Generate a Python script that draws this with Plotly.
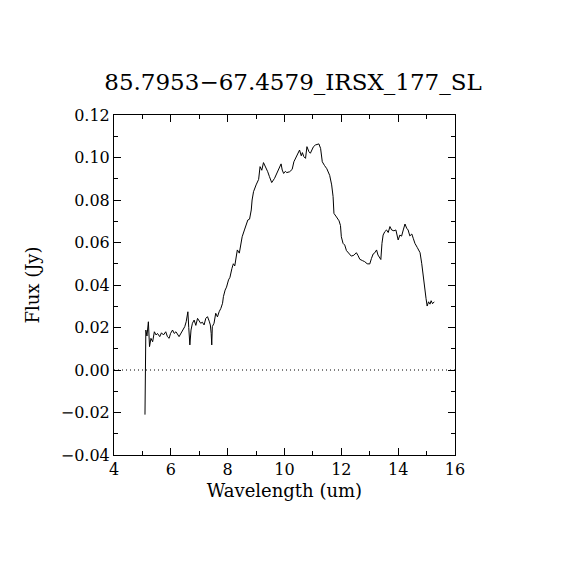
import plotly.graph_objects as go

TITLE = "85.7953\u221267.4579_IRSX_177_SL"

# wavelength (um) and flux (Jy)
wave = [5.09, 5.10, 5.12, 5.16, 5.21, 5.25, 5.30, 5.36, 5.42, 5.48, 5.53, 5.61, 5.67, 5.74,
        5.82, 5.88, 5.94, 5.99, 6.06, 6.12, 6.18, 6.29, 6.35, 6.41, 6.49, 6.54, 6.60, 6.63,
        6.67, 6.71, 6.76, 6.82, 6.88, 6.94, 7.00, 7.05, 7.11, 7.17, 7.23, 7.29, 7.35, 7.39,
        7.42, 7.44, 7.46, 7.52, 7.58, 7.64, 7.70, 7.76, 7.82, 7.85, 7.91, 7.96, 8.03, 8.08,
        8.15, 8.20, 8.25, 8.30, 8.34, 8.41, 8.47, 8.51, 8.59, 8.65, 8.71, 8.77, 8.83, 8.86,
        8.91, 9.00, 9.09, 9.14, 9.20, 9.26, 9.33, 9.41, 9.47, 9.55, 9.65, 9.73, 9.82, 9.88,
        9.92, 9.97, 10.03, 10.08, 10.18, 10.27, 10.33, 10.39, 10.47, 10.53, 10.59, 10.63,
        10.68, 10.74, 10.79, 10.86, 10.91, 10.95, 11.02, 11.09, 11.21, 11.27, 11.33, 11.41,
        11.49, 11.59, 11.66, 11.71, 11.74, 11.83, 11.92, 11.97, 12.00, 12.06, 12.12, 12.18,
        12.27, 12.35, 12.44, 12.53, 12.59, 12.65, 12.74, 12.82, 12.91, 13.00, 13.06, 13.12,
        13.18, 13.24, 13.29, 13.35, 13.39, 13.43, 13.47, 13.53, 13.59, 13.65, 13.71, 13.77,
        13.85, 13.92, 13.96, 14.00, 14.06, 14.12, 14.18, 14.24, 14.30, 14.35, 14.41, 14.48,
        14.53, 14.59, 14.67, 14.77, 14.83, 14.88, 14.94, 14.98, 15.02, 15.07, 15.12, 15.16,
        15.21, 15.27]
flux = [-0.021, 0.0097, 0.0188, 0.016, 0.0227, 0.011, 0.0149, 0.0133, 0.018, 0.0165, 0.0172,
        0.0157, 0.0175, 0.0165, 0.018, 0.0157, 0.0149, 0.0172, 0.0188, 0.0172, 0.018, 0.0157,
        0.0172, 0.0188, 0.0204, 0.0227, 0.0274, 0.020, 0.0118, 0.0188, 0.022, 0.0235, 0.021,
        0.0243, 0.023, 0.022, 0.0225, 0.0212, 0.0243, 0.0251, 0.023, 0.0212, 0.0172, 0.0118,
        0.0204, 0.022, 0.0267, 0.025, 0.0274, 0.029, 0.0314, 0.0345, 0.0376, 0.039, 0.0424,
        0.0436, 0.0478, 0.050, 0.049, 0.0525, 0.0565, 0.055, 0.0596, 0.0627, 0.0659, 0.0682,
        0.0706, 0.071, 0.0753, 0.080, 0.0839, 0.0871, 0.0897, 0.0957, 0.094, 0.0976, 0.0957,
        0.0933, 0.091, 0.0882, 0.0902, 0.0925, 0.0957, 0.097, 0.0941, 0.0925, 0.0935, 0.0929,
        0.0933, 0.0944, 0.098, 0.0996, 0.1012, 0.1035, 0.1008, 0.1023, 0.1004, 0.0996, 0.1051,
        0.1027, 0.1020, 0.1035, 0.1051, 0.1059, 0.1064, 0.1043, 0.098, 0.0962, 0.0947, 0.0916,
        0.0871, 0.0816, 0.0737, 0.072, 0.0702, 0.068, 0.0627, 0.0596, 0.0588, 0.0562, 0.0546,
        0.0536, 0.054, 0.0552, 0.0538, 0.0521, 0.0515, 0.051, 0.050, 0.0499, 0.0525, 0.0546,
        0.0552, 0.0565, 0.0541, 0.0525, 0.052, 0.0596, 0.0635, 0.0651, 0.0659, 0.0647, 0.0675,
        0.0659, 0.0655, 0.0659, 0.0635, 0.0612, 0.0635, 0.063, 0.0659, 0.0687, 0.0667, 0.0659,
        0.0631, 0.064, 0.062, 0.0596, 0.0577, 0.0552, 0.050, 0.0439, 0.0376, 0.0337, 0.0301,
        0.0321, 0.031, 0.0326, 0.0312, 0.0321]

X_RANGE = [4, 16]
Y_RANGE = [-0.04, 0.12]

FONT = "DejaVu Serif"

fig = go.Figure()
fig.add_trace(go.Scatter(x=wave, y=flux, mode="lines",
                         line=dict(color="black", width=1), showlegend=False))

# dotted zero line
fig.add_shape(type="line", xref="paper", yref="y", x0=0, x1=1, y0=0, y1=0,
              line=dict(color="black", width=1, dash="1px,3px"))

ax = dict(showgrid=False, zeroline=False, showline=True, linecolor="black", linewidth=1,
          mirror="allticks", ticks="inside", ticklen=7, tickcolor="black", tickwidth=1,
          tickfont=dict(family=FONT, size=16, color="black"))
fig.update_xaxes(**ax, range=X_RANGE, dtick=2, tick0=4,
                 minor=dict(dtick=1, ticks="inside", ticklen=4, tickcolor="black"),
                 title=dict(text="Wavelength (um)", font=dict(family=FONT, size=18, color="black"),
                            standoff=6))
fig.update_yaxes(**ax, range=Y_RANGE, dtick=0.02, tickformat=".2f",
                 minor=dict(dtick=0.01, ticks="inside", ticklen=4, tickcolor="black"),
                 title=dict(text="Flux (Jy)", font=dict(family=FONT, size=18, color="black"),
                            standoff=16))

fig.update_layout(width=570, height=570, plot_bgcolor="white", paper_bgcolor="white",
                  margin=dict(l=106, r=123, t=107, b=123),
                  title=dict(text=TITLE, x=0.5, xanchor="center", y=0.87, yanchor="middle",
                             font=dict(family=FONT, size=23, color="black")),
                  font=dict(family=FONT, color="black"))

fig.write_html("out.html")
